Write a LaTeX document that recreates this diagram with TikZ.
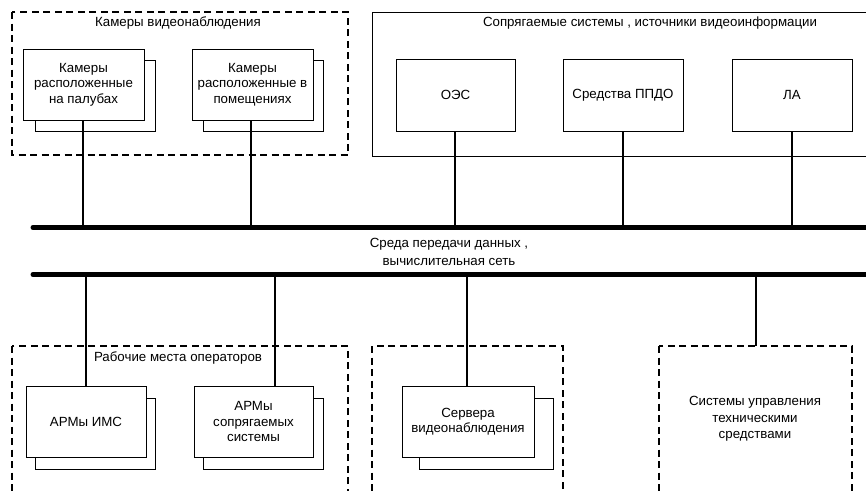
\documentclass[tikz,border=0pt]{standalone}
\usepackage{fontspec}
\setmainfont{Liberation Sans}
\usetikzlibrary{calc}

\tikzset{
  frontbox/.style={draw=black, line width=0.9pt, fill=white, minimum width=#1, minimum height=71pt,
                   inner sep=0pt, align=center, font=\fontsize{13.3}{15.5}\selectfont},
  frontbox/.default=120pt,
  backbox/.style={draw=black, line width=0.9pt, fill=white, minimum width=#1, minimum height=71pt, inner sep=0pt},
  backbox/.default=120pt,
  groupdash/.style={draw=black, line width=1.8pt, dash pattern=on 7pt off 4.5pt},
  groupsolid/.style={draw=black, line width=0.9pt},
  grouptitle/.style={font=\fontsize{13.3}{15}\selectfont, inner sep=0pt},
  busline/.style={line width=5pt, line cap=round},
  tapline/.style={line width=1.8pt},
  buslabel/.style={align=center, font=\fontsize{13.3}{18}\selectfont, inner sep=0pt}
}

\begin{document}
\begin{tikzpicture}[x=1pt, y=-1pt]
  \useasboundingbox (0,0) rectangle (866,490);
  \clip (0,0) rectangle (866,490);

  % --- surveillance cameras group
  \draw[groupdash] (12,12) rectangle (348,155);
  \node[grouptitle] (camtitle) at (178,23) {Камеры видеонаблюдения};
  \node[backbox=120pt]  (cam1b) at (95,95.5) {};
  \node[frontbox=121pt] (cam1)  at (83.5,84.5) {Камеры\\расположенные\\на палубах};
  \node[backbox=120pt]  (cam2b) at (263,95.5) {};
  \node[frontbox=121pt] (cam2)  at (252.5,84.5) {Камеры\\расположенные в\\помещениях};

  % --- interfaced systems group
  \draw[groupsolid] (372,12) rectangle (880,156);
  \node[grouptitle] (systitle) at (650,23) {Сопрягаемые системы , источники видеоинформации};
  \node[frontbox=119pt, minimum height=72pt] (oes)  at (455.5,95) {ОЭС};
  \node[frontbox=120pt, minimum height=72pt] (ppdo) at (623,95) {Средства ППДО};
  \node[frontbox=120pt, minimum height=72pt] (la)   at (792,95) {ЛА};

  % --- data network buses
  \coordinate (bus1l) at (33,227.5);
  \coordinate (bus1r) at (880,227.5);
  \coordinate (bus2l) at (33,274.5);
  \coordinate (bus2r) at (880,274.5);
  \draw[busline] (bus1l) -- (bus1r);
  \draw[busline] (bus2l) -- (bus2r);
  \node[buslabel] (net) at (449,252) {Среда передачи данных ,\\вычислительная сеть};

  % taps on the upper bus
  \coordinate (u1) at (83,227.5);
  \coordinate (u2) at (251,227.5);
  \coordinate (u3) at (455,227.5);
  \coordinate (u4) at (623,227.5);
  \coordinate (u5) at (792,227.5);
  \draw[tapline] (cam1.south -| u1) -- (u1);
  \draw[tapline] (cam2.south -| u2) -- (u2);
  \draw[tapline] (oes.south -| u3) -- (u3);
  \draw[tapline] (ppdo.south -| u4) -- (u4);
  \draw[tapline] (la.south -| u5) -- (u5);

  % --- operator workstations group
  \draw[groupdash] (12,346) rectangle (348,500);
  \node[grouptitle] (opstitle) at (178,358) {Рабочие места операторов};
  \node[backbox=120pt]  (arm1b) at (95,433.5) {};
  \node[frontbox=120pt] (arm1)  at (86,421.5) {АРМы ИМС};
  \node[backbox=120pt]  (arm2b) at (263,433.5) {};
  \node[frontbox=119pt] (arm2)  at (253.5,421.5) {АРМы\\сопрягаемых\\системы};

  % --- video servers group
  \draw[groupdash] (372,346) rectangle (563,500);
  \node[backbox=134pt]  (servb) at (486,433.5) {};
  \node[frontbox=132pt] (serv)  at (468,421.5) {Сервера\\видеонаблюдения};

  % --- technical control systems group
  \draw[groupdash] (659,346) rectangle (852,500);
  \node[align=center, font=\fontsize{13.3}{16.5}\selectfont, inner sep=0pt] (ctrl) at (755,419)
    {Системы управления\\техническими\\средствами};
  \coordinate (ctrltop) at (756,346);

  % taps on the lower bus
  \coordinate (d1) at (86,274.5);
  \coordinate (d2) at (275,274.5);
  \coordinate (d3) at (467,274.5);
  \coordinate (d4) at (756,274.5);
  \draw[tapline] (d1) -- (d1 |- arm1.north);
  \draw[tapline] (d2) -- (d2 |- arm2.north);
  \draw[tapline] (d3) -- (d3 |- serv.north);
  \draw[tapline] (d4) -- (ctrltop);
\end{tikzpicture}
\end{document}
